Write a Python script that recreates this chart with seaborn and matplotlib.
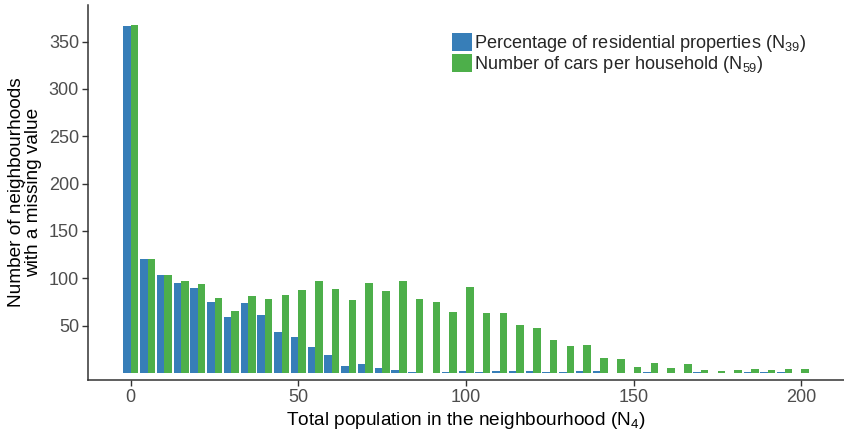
import matplotlib
matplotlib.use("Agg")
import matplotlib.pyplot as plt
import seaborn as sns
import pandas as pd
import numpy as np

bins = list(range(0, 205, 5))
residential = [367, 120, 103, 95, 90, 75, 59, 74, 61, 43, 38, 27, 19, 7, 9, 5, 3, 1, 0, 1,
               2, 1, 2, 2, 2, 1, 1, 2, 2, 0, 0, 1, 0, 0, 1, 0, 0, 1, 1, 1, 0]
cars = [368, 120, 103, 97, 94, 79, 66, 81, 78, 82, 88, 97, 89, 77, 95, 87, 97, 78, 75, 64,
        91, 63, 63, 51, 47, 35, 28, 30, 16, 15, 6, 11, 5, 9, 3, 2, 3, 4, 3, 4, 4]
series_names = ["Percentage of residential properties (N$_{39}$)",
                "Number of cars per household (N$_{59}$)"]
colors = ["#377EB8", "#4DAF4A"]
x_ticks = [0, 50, 100, 150, 200]
y_ticks = [50, 100, 150, 200, 250, 300, 350]

df = pd.DataFrame({
    "bin": bins * 2,
    "count": residential + cars,
    "series": [series_names[0]] * len(bins) + [series_names[1]] * len(bins),
})

sns.set_style("ticks")
plt.rcParams["font.family"] = ["Liberation Sans", "DejaVu Sans"]
plt.rcParams["mathtext.fontset"] = "custom"
plt.rcParams["mathtext.rm"] = "Liberation Sans"
plt.rcParams["mathtext.it"] = "Liberation Sans:italic"
plt.rcParams["mathtext.bf"] = "Liberation Sans:bold"

fig = plt.figure(figsize=(8.45, 4.38), dpi=100)
ax = fig.add_axes([88 / 845, 1 - 380 / 438, 1 - 88 / 845 - 0.001, (380 - 5) / 438])

sns.barplot(data=df, x="bin", y="count", hue="series", hue_order=series_names,
            palette=colors, native_scale=True, orient="x", width=0.9, gap=0,
            errorbar=None, linewidth=0, ax=ax, saturation=1)

ax.set_xlim(-12.75, 212.75)
ax.set_ylim(-7.4, 388.7)
ax.set_xticks(x_ticks)
ax.set_xticklabels([str(t) for t in x_ticks])
ax.set_yticks(y_ticks)
ax.set_yticklabels([str(t) for t in y_ticks])
ax.tick_params(axis="both", labelsize=13, labelcolor="#4D4D4D", color="#333333",
               length=4, width=1, pad=2.5)
for s in ["top", "right"]:
    ax.spines[s].set_visible(False)
for s in ["left", "bottom"]:
    ax.spines[s].set_color("#333333")
    ax.spines[s].set_linewidth(1.1)

ax.set_xlabel("Total population in the neighbourhood (N$_{4}$)", fontsize=13.7, color="black",
              labelpad=3)
ax.set_ylabel("Number of neighbourhoods\nwith a missing value", fontsize=13.7, color="black",
              labelpad=5, linespacing=0.95)

leg = ax.legend(loc="upper left", bbox_to_anchor=(452 / 845, 1 - 33 / 438),
                bbox_transform=fig.transFigure, frameon=False, fontsize=13.1,
                handlelength=1.1, handleheight=1.1, handletextpad=0.1,
                labelspacing=0.0, borderpad=0, borderaxespad=0, title=None)

fig.savefig("out.png", dpi=100)
